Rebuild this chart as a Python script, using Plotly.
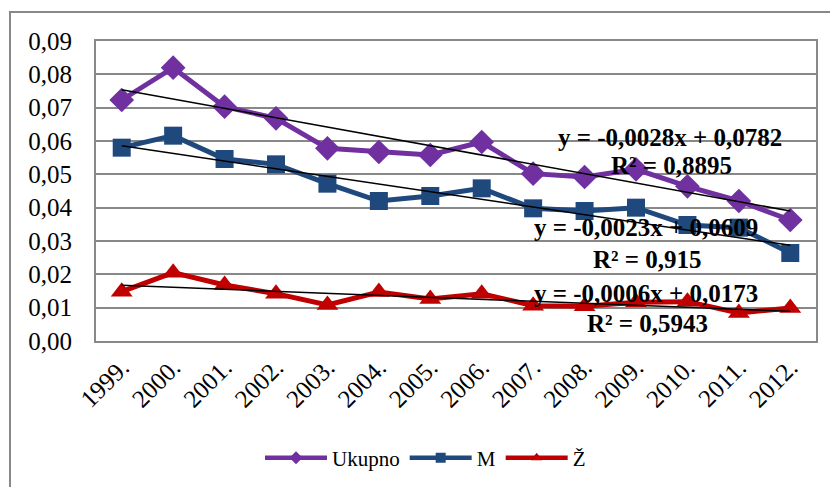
import plotly.graph_objects as go

# podaci ocitani sa grafika
godine = ["1999.", "2000.", "2001.", "2002.", "2003.", "2004.", "2005.",
          "2006.", "2007.", "2008.", "2009.", "2010.", "2011.", "2012."]
ukupno = [0.0723, 0.0820, 0.0703, 0.0668, 0.0578, 0.0567, 0.0558,
          0.0597, 0.0502, 0.0492, 0.0515, 0.0464, 0.0420, 0.0363]
muski = [0.0580, 0.0616, 0.0546, 0.0530, 0.0472, 0.0420, 0.0435,
         0.0458, 0.0398, 0.0390, 0.0400, 0.0348, 0.0340, 0.0264]
zenski = [0.0148, 0.0205, 0.0168, 0.0142, 0.0108, 0.0147, 0.0126,
          0.0142, 0.0106, 0.0104, 0.0116, 0.0118, 0.0084, 0.0099]

# linearni trendovi (koeficijenti sa grafika)
nagib = [-0.0028, -0.0023, -0.0006]
odsjecak = [0.0782, 0.0609, 0.0173]
jednacine = ["y = -0,0028x + 0,0782", "y = -0,0023x + 0,0609", "y = -0,0006x + 0,0173"]
r2 = ["R² = 0,8895", "R² = 0,915", "R² = 0,5943"]

# stranica ima marginu od 8px oko grafika
OFF = 8
W, H = 838, 487
L, R, T, B = 96 - OFF, 22 + OFF, 41 - OFF, 146 + OFF
PW, PH = W - L - R, H - T - B


def px(x):
    return (x - OFF - L) / PW


def py(y):
    return 1 - (y - OFF - T) / PH


FONT = "Liberation Serif"
boje = ["#7030A0", "#1F497D", "#C00000"]
simboli = ["diamond", "square", "triangle-up"]
velicine = [19, 18, 19]
imena = ["Ukupno", "M", "Ž"]

fig = go.Figure()

for serija, boja, simbol, vel in zip([ukupno, muski, zenski], boje, simboli, velicine):
    fig.add_trace(go.Scatter(
        x=godine, y=serija, mode="lines+markers", showlegend=False,
        line=dict(color=boja, width=5),
        marker=dict(symbol=simbol, size=vel, color=boja),
    ))

for k, b in zip(nagib, odsjecak):
    trend = [k * (i + 1) + b for i in range(len(godine))]
    fig.add_trace(go.Scatter(
        x=godine, y=trend, mode="lines", showlegend=False,
        line=dict(color="black", width=1.5), hoverinfo="skip",
    ))

# legenda sa manjim oznakama
for boja, simbol, ime in zip(boje, simboli, imena):
    fig.add_trace(go.Scatter(
        x=[None], y=[None], name=ime, mode="lines+markers",
        line=dict(color=boja, width=4.5),
        marker=dict(symbol=simbol, size=10, color=boja),
    ))

# natpisi jednacina
pozicije = [(670, 137, 671, 165), (646, 227, 647, 259), (646, 293, 647, 323)]
for (x1, y1, x2, y2), jed, r in zip(pozicije, jednacine, r2):
    for xx, yy, tekst in [(x1, y1, jed), (x2, y2, r)]:
        fig.add_annotation(x=px(xx), y=py(yy), xref="paper", yref="paper",
                           xanchor="center", yanchor="middle", text="<b>" + tekst + "</b>",
                           showarrow=False, font=dict(family=FONT, size=25, color="black"))

# okvir grafika
fig.add_shape(type="rect", xref="paper", yref="paper",
              x0=px(10), x1=px(845), y0=py(12), y1=py(495),
              line=dict(color="#888888", width=2), layer="below")

fig.update_layout(
    width=W, height=H,
    margin=dict(l=L, r=R, t=T, b=B, autoexpand=False),
    paper_bgcolor="white", plot_bgcolor="white",
    separators=", ",
    font=dict(family=FONT, size=22, color="black"),
    showlegend=True,
    legend=dict(orientation="h", x=px(260), xanchor="left", y=py(458), yanchor="middle",
                font=dict(family=FONT, size=21), itemwidth=62, bgcolor="rgba(0,0,0,0)"),
)
fig.update_xaxes(type="category", range=[-0.5, 13.5], tickangle=-45, showgrid=False,
                 showline=True, linecolor="#888888", linewidth=2, mirror=True,
                 tickfont=dict(family=FONT, size=25), ticks="", automargin=False)
fig.update_yaxes(range=[0, 0.09], dtick=0.01, tickformat=".2f", showgrid=True,
                 gridcolor="#888888", gridwidth=2, showline=True, linecolor="#888888",
                 linewidth=2, mirror=True, zeroline=False, ticks="", ticklabelstandoff=17,
                 tickfont=dict(family=FONT, size=25), automargin=False)

fig.write_html("out.html")
